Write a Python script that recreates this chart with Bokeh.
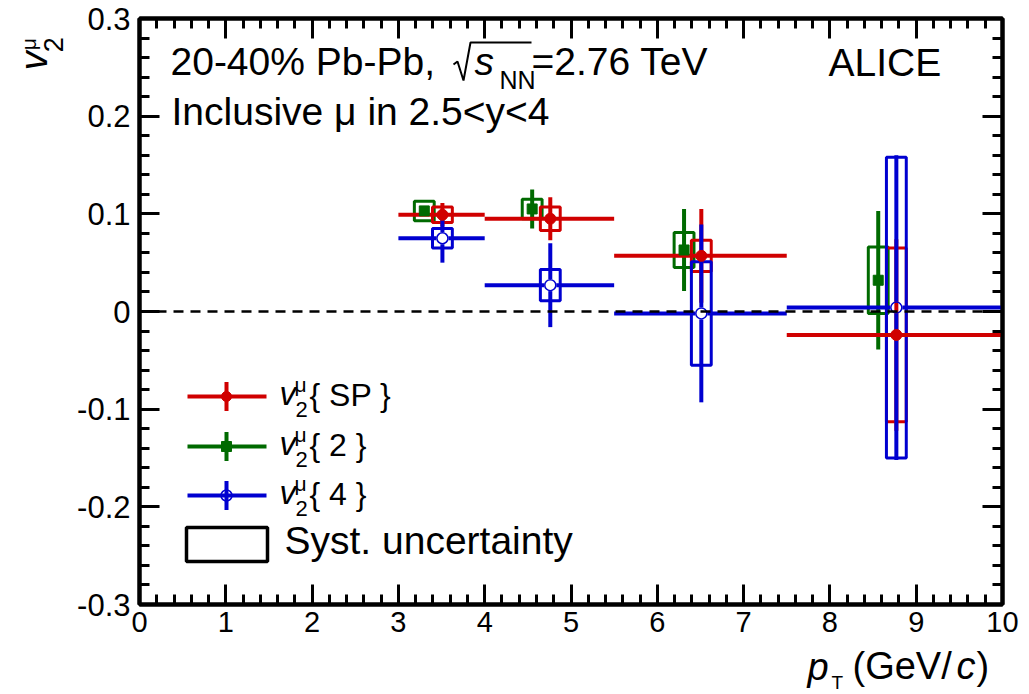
import numpy as np
from bokeh.plotting import figure
from bokeh.layouts import row, column
from bokeh.models import (Range1d, LinearAxis, FixedTicker, CustomJSTickFormatter,
                          Label, ColumnDataSource, Span)
from bokeh.embed import file_html
from bokeh.resources import INLINE

# ---------------- data ----------------
bin_lo = [3.0, 4.0, 5.5, 7.5]
bin_hi = [4.0, 5.5, 7.5, 10.0]

pt_sp = [3.51, 4.76, 6.51, 8.77]
v2_sp = [0.099, 0.095, 0.057, -0.024]
stat_sp = [0.012, 0.022, 0.048, 0.098]
syst_sp = [0.008, 0.012, 0.016, 0.089]

pt_2 = [3.30, 4.55, 6.31, 8.56]
v2_2 = [0.103, 0.105, 0.063, 0.032]
stat_2 = [0.005, 0.020, 0.042, 0.071]
syst_2 = [0.010, 0.010, 0.018, 0.034]

pt_4 = [3.51, 4.76, 6.51, 8.77]
v2_4 = [0.075, 0.027, -0.002, 0.004]
stat_4 = [0.025, 0.043, 0.091, 0.156]
syst_4 = [0.010, 0.016, 0.053, 0.154]

x_ticks = [0, 1, 2, 3, 4, 5, 6, 7, 8, 9, 10]
y_ticks = [-0.3, -0.2, -0.1, 0.0, 0.1, 0.2, 0.3]

# ---------------- style / layout ----------------
RED = "#d00000"
GREEN = "#006a00"
BLUE = "#0000d0"
FONT = "Liberation Sans"
SYST_HW = 0.115
MID = 0.35   # baseline -> vertical centre of the text box, in em

W, H = 1029, 694
FL, FR, FT, FB = 139, 1002, 18, 604   # frame edges in canvas px
LW = 72                               # left strip (y title)
BH = 50                               # bottom strip (x title)
HM = H - BH                           # main figure height

def dx(px):
    return (px - FL) / (FR - FL) * 10.0

def dy(py):
    return 0.3 - (py - FT) / (FB - FT) * 0.6

p = figure(width=W - LW, height=HM, x_range=Range1d(0, 10), y_range=Range1d(-0.3, 0.3),
           output_backend="svg", toolbar_location=None,
           min_border_left=FL - LW, min_border_right=W - FR,
           min_border_top=FT, min_border_bottom=HM - FB)
p.grid.visible = False
p.outline_line_color = "black"
p.outline_line_width = 4
p.background_fill_color = "white"
p.border_fill_color = "white"

x_minor = [i * 0.2 for i in range(51)]
y_minor = [round(-0.3 + i * 0.02, 4) for i in range(31)]

def style_axis(ax, labels=True, size=30, standoff=9):
    ax.axis_line_width = 4
    ax.major_tick_line_width = 3
    ax.minor_tick_line_width = 3
    ax.major_tick_in = 20
    ax.major_tick_out = 0
    ax.minor_tick_in = 10
    ax.minor_tick_out = 0
    ax.major_label_text_font = FONT
    ax.major_label_text_color = "black"
    if labels:
        ax.major_label_text_font_size = f"{size}px"
        ax.major_label_standoff = standoff
    else:
        ax.major_label_text_font_size = "0px"
        ax.major_label_text_color = None
        ax.major_label_standoff = 0

p.xaxis.ticker = FixedTicker(ticks=x_ticks, minor_ticks=x_minor)
p.yaxis.ticker = FixedTicker(ticks=y_ticks, minor_ticks=y_minor)
p.yaxis.formatter = CustomJSTickFormatter(
    code="return Math.abs(tick) < 1e-9 ? '0' : tick.toFixed(1);")
style_axis(p.xaxis[0], size=29, standoff=7)
style_axis(p.yaxis[0], size=31, standoff=9)

top_ax = LinearAxis(ticker=FixedTicker(ticks=x_ticks, minor_ticks=x_minor))
right_ax = LinearAxis(ticker=FixedTicker(ticks=y_ticks, minor_ticks=y_minor))
style_axis(top_ax, labels=False)
style_axis(right_ax, labels=False)
p.add_layout(top_ax, "above")
p.add_layout(right_ax, "right")

# zero line
p.add_layout(Span(location=0, dimension="width", line_color="black",
                  line_width=2.5, line_dash="10 7"))

# ---------------- series ----------------
def series(pt, v2, stat, syst):
    pt = np.array(pt); v2 = np.array(v2); stat = np.array(stat); syst = np.array(syst)
    return ColumnDataSource(dict(
        pt=pt, v2=v2, lo=np.array(bin_lo), hi=np.array(bin_hi),
        ylo=v2 - stat, yhi=v2 + stat,
        bl=pt - SYST_HW, br=pt + SYST_HW, bb=v2 - syst, bt=v2 + syst))

src_sp = series(pt_sp, v2_sp, stat_sp, syst_sp)
src_2 = series(pt_2, v2_2, stat_2, syst_2)
src_4 = series(pt_4, v2_4, stat_4, syst_4)

# systematic boxes
for src, c in [(src_2, GREEN), (src_sp, RED), (src_4, BLUE)]:
    p.quad(left="bl", right="br", bottom="bb", top="bt", source=src,
           fill_alpha=0, line_color=c, line_width=3)

# green: vertical only
p.segment(x0="pt", x1="pt", y0="ylo", y1="yhi", source=src_2, line_color=GREEN, line_width=4)
# red: horizontal + vertical
p.segment(x0="lo", x1="hi", y0="v2", y1="v2", source=src_sp, line_color=RED, line_width=4)
p.segment(x0="pt", x1="pt", y0="ylo", y1="yhi", source=src_sp, line_color=RED, line_width=4)

# blue error bars with a gap around the open marker
GAP_X = 6 * 10.0 / (FR - FL)
GAP_Y = 6 * 0.6 / (FB - FT)
b = src_4.data
src_4g = ColumnDataSource(dict(
    hx0=np.concatenate([b["lo"], b["pt"] + GAP_X]),
    hx1=np.concatenate([b["pt"] - GAP_X, b["hi"]]),
    hy=np.concatenate([b["v2"], b["v2"]]),
    vx=np.concatenate([b["pt"], b["pt"]]),
    vy0=np.concatenate([b["ylo"], b["v2"] + GAP_Y]),
    vy1=np.concatenate([b["v2"] - GAP_Y, b["yhi"]]),
))
p.segment(x0="hx0", x1="hx1", y0="hy", y1="hy", source=src_4g, line_color=BLUE, line_width=4)
p.segment(x0="vx", x1="vx", y0="vy0", y1="vy1", source=src_4g, line_color=BLUE, line_width=4)

# markers
p.scatter(x="pt", y="v2", source=src_2, marker="square", size=10,
          fill_color=GREEN, line_color=GREEN)
p.scatter(x="pt", y="v2", source=src_sp, marker="circle", size=11,
          fill_color=RED, line_color=RED)
p.scatter(x="pt", y="v2", source=src_4, marker="circle", size=11,
          fill_alpha=0, line_color=BLUE, line_width=1.5)

# ---------------- text helpers ----------------
def add_label(fig, x, y, text, size, style="normal", angle=0):
    fig.add_layout(Label(x=x, y=y, text=text, text_font=FONT,
                         text_font_size=f"{size}px", text_font_style=style,
                         text_baseline="middle", text_align="left",
                         angle=angle, text_color="black"))

def plab(px, py, text, size, style="normal"):
    # (px, py): start of the baseline in canvas pixels
    add_label(p, dx(px), dy(py - MID * size), text, size, style)

# header line 1 with square-root sign
plab(170, 75, "20-40% Pb-Pb,", 39)
p.line(x=[dx(453), dx(457), dx(463), dx(470), dx(531)],
       y=[dy(64), dy(61), dy(80), dy(42), dy(42)],
       line_color="black", line_width=2)
plab(474, 75, "s", 39, "italic")
plab(499, 88, "NN", 25)
plab(531, 75, "=2.76 TeV", 39)
plab(171, 125, "Inclusive \u03bc in 2.5<y<4", 39)
plab(828, 76, "ALICE", 39)

# ---------------- legend ----------------
LX0, LX1, LXC = 187, 266, 226
rows = [396, 446, 495]
leg_cols = [RED, GREEN, BLUE]
leg_txt = ["{ SP }", "{ 2 }", "{ 4 }"]
leg_src = ColumnDataSource(dict(
    x0=[dx(LX0)] * 3, x1=[dx(LX1)] * 3, xc=[dx(LXC)] * 3,
    y=[dy(r) for r in rows], ylo=[dy(r + 14.5) for r in rows], yhi=[dy(r - 14.5) for r in rows],
    c=leg_cols))
p.segment(x0="x0", x1="x1", y0="y", y1="y", source=leg_src, line_color="c", line_width=4)
p.segment(x0="xc", x1="xc", y0="ylo", y1="yhi", source=leg_src, line_color="c", line_width=4)
p.scatter(x=[dx(LXC)], y=[dy(rows[0])], marker="circle", size=10, fill_color=RED, line_color=RED)
p.scatter(x=[dx(LXC)], y=[dy(rows[1])], marker="square", size=10, fill_color=GREEN, line_color=GREEN)
p.scatter(x=[dx(LXC)], y=[dy(rows[2])], marker="circle", size=11, fill_alpha=0,
          line_color=BLUE, line_width=1.5)
for r, t in zip(rows, leg_txt):
    plab(279, r + 9, "v", 33, "italic")
    plab(295, r + 21, "2", 22)
    plab(294, r - 5, "\u03bc", 21)
    plab(309, r + 10, t, 32)
p.quad(left=[dx(186)], right=[dx(267)], top=[dy(527)], bottom=[dy(561)],
       fill_alpha=0, line_color="black", line_width=3.5)
plab(284, 554, "Syst. uncertainty", 39)

# ---------------- axis-title strips (pixel coordinates) ----------------
def strip(w, h, y_top):
    f = figure(width=w, height=h, x_range=Range1d(0, w), y_range=Range1d(y_top + h, y_top),
               output_backend="svg", toolbar_location=None,
               x_axis_location=None, y_axis_location=None, min_border=0)
    f.grid.visible = False
    f.outline_line_color = None
    f.background_fill_color = "white"
    f.border_fill_color = "white"
    return f

# y title, rotated: (bx, by) = baseline x and start y in canvas px
pl = strip(LW, HM, 0)
ang = np.pi / 2
def ylab(bx, by, text, size, style="normal"):
    add_label(pl, bx - MID * size, by, text, size, style, angle=ang)
ylab(47, 57, "v", 38, "italic")
ylab(62, 37, "2", 27)
ylab(35, 35, "\u03bc", 21)

# x title
pb = strip(W, BH, HM)
def xlab(px, py, text, size, style="normal"):
    add_label(pb, px, py - MID * size, text, size, style)
xlab(807, 680, "p", 38, "italic")
xlab(831, 689, "T", 19)
xlab(852, 679, "(GeV/", 38)
xlab(956, 679, "c", 38, "italic")
xlab(976, 679, ")", 38)

layout = column(row(pl, p), pb)
open("out.html", "w").write(file_html(layout, INLINE))
